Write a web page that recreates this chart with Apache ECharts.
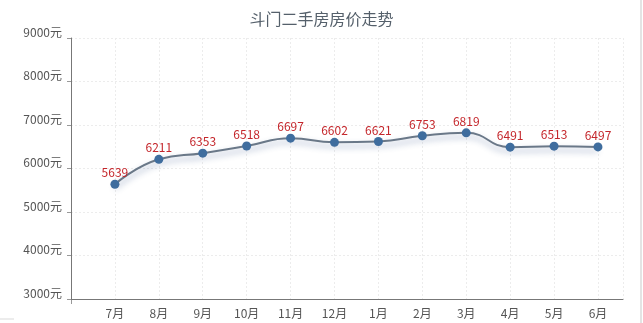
<!DOCTYPE html>
<html>
<head>
<meta charset="utf-8">
<script src="https://cdn.jsdelivr.net/npm/echarts@6/dist/echarts.min.js"></script>
<style>
  html, body { margin: 0; padding: 0; background: #fff; }
  #chart { width: 643px; height: 323px; }
</style>
</head>
<body>
<div id="chart"></div>
<script>
// 斗门二手房月度均价（元/㎡）
const months = ['7月', '8月', '9月', '10月', '11月', '12月', '1月', '2月', '3月', '4月', '5月', '6月'];
const prices = [5639, 6211, 6353, 6518, 6697, 6602, 6621, 6753, 6819, 6491, 6513, 6497];
const yTicks = [3000, 4000, 5000, 6000, 7000, 8000, 9000];

const FONT = '"Noto Sans CJK SC", "Microsoft YaHei", sans-serif';

// months sit at positions 1..12 along the x axis, leaving a lead-in gap before 7月
const points = prices.map((v, i) => [i + 1, v]);

const chart = echarts.init(document.getElementById('chart'), null, { renderer: 'canvas' });
chart.setOption({
  animation: false,
  backgroundColor: '#fff',
  title: {
    text: '斗门二手房房价走势',
    left: 'center',
    top: 6,
    textStyle: { fontFamily: FONT, fontSize: 16, fontWeight: 'normal', color: '#55606b' }
  },
  grid: { left: 71, right: 20, top: 38, bottom: 24 },
  xAxis: {
    type: 'value',
    min: 0,
    max: 12.57,
    interval: 1,
    axisLine: { lineStyle: { color: '#777', width: 1 } },
    axisTick: { show: false },
    axisLabel: {
      fontFamily: FONT, fontSize: 12, color: '#555', margin: 8,
      showMaxLabel: false,
      formatter: v => (Number.isInteger(v) && v >= 1 && v <= months.length) ? months[v - 1] : ''
    },
    splitLine: { show: true, lineStyle: { color: '#ececec', type: [2, 2], width: 1 } }
  },
  yAxis: {
    type: 'value',
    min: yTicks[0],
    max: yTicks[yTicks.length - 1],
    interval: 1000,
    axisLine: { show: true, lineStyle: { color: '#777', width: 1 } },
    axisTick: { show: true, length: 4, lineStyle: { color: '#999' } },
    axisLabel: {
      fontFamily: FONT, fontSize: 12, color: '#555', margin: 9,
      verticalAlign: 'bottom',
      formatter: v => v + '元'
    },
    splitLine: { show: true, lineStyle: { color: '#ececec', type: [2, 2], width: 1 } }
  },
  graphic: [
    { type: 'rect', shape: { x: 640, y: 0, width: 2, height: 323 }, style: { fill: '#e4e4e4' }, silent: true },
    { type: 'rect', shape: { x: 0, y: 318, width: 14, height: 2 }, style: { fill: '#ececec' }, silent: true },
    { type: 'line', shape: { x1: 71.5, y1: 299, x2: 71.5, y2: 304 }, style: { stroke: '#999', lineWidth: 1 }, silent: true }
  ],
  series: [{
    type: 'line',
    data: points,
    smooth: true,
    symbol: 'circle',
    symbolSize: 9,
    itemStyle: { color: '#3f6d9e' },
    lineStyle: {
      color: '#6a7888',
      width: 2,
      shadowColor: 'rgba(40,70,130,0.45)',
      shadowBlur: 6,
      shadowOffsetY: 4
    },
    label: {
      show: true,
      position: 'top',
      distance: 1,
      fontFamily: FONT,
      fontSize: 12,
      color: '#c4262b',
      formatter: p => p.value[1]
    }
  }]
});
</script>
</body>
</html>
